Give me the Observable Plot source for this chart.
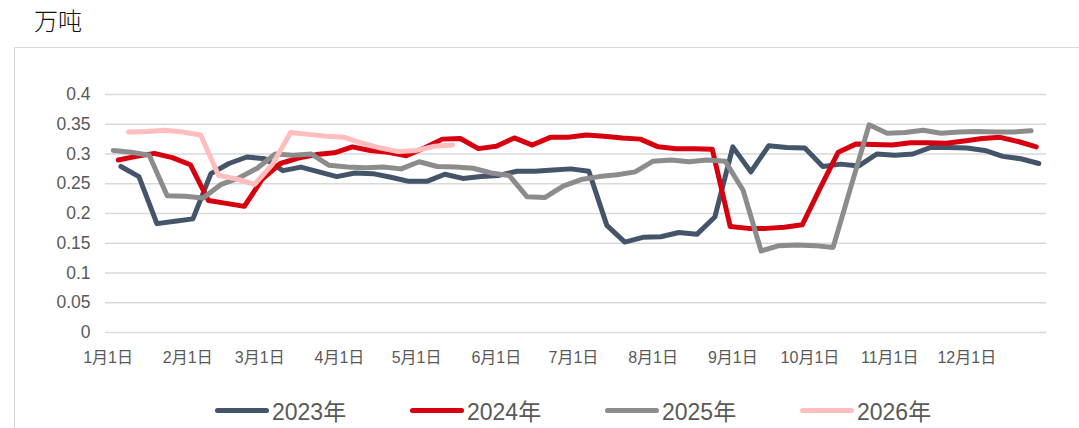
<!DOCTYPE html>
<html>
<head>
<meta charset="utf-8">
<script src="https://cdn.jsdelivr.net/npm/d3@7"></script>
<script src="https://cdn.jsdelivr.net/npm/@observablehq/plot@0.6"></script>
<style>
  body { margin: 0; background: #fff; }
  #wrap { position: relative; width: 1079px; height: 428px; overflow: hidden; font-family: "Liberation Sans", Arial, "Noto Sans CJK SC", sans-serif; }
  #title { position: absolute; left: 34px; top: 6px; font-size: 24px; font-weight: 300; color: #111; font-family: "Noto Sans CJK SC", sans-serif; line-height: 1.2; }
  #box { position: absolute; left: 14px; top: 47px; width: 1090px; height: 420px; border: 1px solid #d9d9d9; box-sizing: border-box; }
  #chart { position: absolute; left: 0; top: 60px; }
  #legend { position: absolute; left: 215px; top: 393px; display: flex; }
  .item { display: flex; align-items: center; width: 195px; }
  .swatch { width: 54px; height: 5px; border-radius: 3px; margin-right: 3px; }
  .label { font-size: 23px; color: #595959; }
</style>
</head>
<body>
<div id="wrap">
  <div id="box"></div>
  <div id="title">万吨</div>
  <div id="chart"></div>
  <div id="legend"></div>
</div>
<script>
// ---- data ----
const seriesNames = ["2023年", "2024年", "2025年", "2026年"];
const seriesColors = ["#44546A", "#D7000F", "#8C8C8C", "#FFBDBD"];
// first weekly observation of each year (date string)
const startDates = ["2023-01-06", "2024-01-05", "2025-01-03", "2026-01-09"];

const v2023 = [0.279,0.262,0.183,0.187,0.191,0.267,0.284,0.295,0.292,0.272,0.278,0.270,0.262,0.268,0.267,0.261,0.254,0.254,0.266,0.259,0.262,0.264,0.271,0.271,0.273,0.275,0.271,0.180,0.152,0.160,0.161,0.168,0.165,0.194,0.312,0.270,0.314,0.311,0.310,0.279,0.283,0.280,0.300,0.298,0.300,0.311,0.311,0.310,0.306,0.296,0.292,0.284];
const v2024 = [0.290,0.296,0.301,0.294,0.282,0.222,0.217,0.212,0.258,0.284,0.293,0.299,0.302,0.312,0.306,0.303,0.297,0.310,0.325,0.326,0.309,0.313,0.327,0.315,0.328,0.328,0.332,0.330,0.327,0.325,0.312,0.309,0.309,0.308,0.178,0.175,0.175,0.177,0.181,0.243,0.303,0.317,0.316,0.315,0.319,0.319,0.318,0.322,0.326,0.328,0.321,0.312];
const v2025 = [0.306,0.303,0.298,0.230,0.229,0.226,0.249,0.260,0.276,0.300,0.298,0.300,0.281,0.278,0.277,0.278,0.275,0.287,0.279,0.278,0.276,0.268,0.264,0.228,0.227,0.246,0.257,0.262,0.265,0.270,0.288,0.290,0.287,0.290,0.288,0.239,0.137,0.146,0.147,0.146,0.143,0.246,0.349,0.335,0.336,0.340,0.335,0.337,0.338,0.337,0.337,0.339];
const v2026 = [0.337,0.338,0.340,0.337,0.332,0.264,0.258,0.249,0.283,0.336,0.333,0.330,0.328,0.318,0.310,0.304,0.306,0.313,0.315];

const yTicks = [0, 0.05, 0.1, 0.15, 0.2, 0.25, 0.3, 0.35, 0.4];
const yTickLabels = ["0", "0.05", "0.1", "0.15", "0.2", "0.25", "0.3", "0.35", "0.4"];
const xTickDays = [0, 31, 59, 90, 120, 151, 181, 212, 243, 273, 304, 334];
const xTickLabels = ["1月1日","2月1日","3月1日","4月1日","5月1日","6月1日","7月1日","8月1日","9月1日","10月1日","11月1日","12月1日"];

// ---- build table (x = day of year of each weekly observation) ----
const allValues = [v2023, v2024, v2025, v2026];
const rows = [];
allValues.forEach((vals, s) => {
  const start = new Date(startDates[s] + "T00:00:00Z");
  const jan1 = Date.UTC(start.getUTCFullYear(), 0, 1);
  vals.forEach((v, i) => {
    const t = start.getTime() + i * 7 * 86400000;
    rows.push({ series: seriesNames[s], day: (t - jan1) / 86400000, value: v });
  });
});

const chart = Plot.plot({
  width: 1079,
  height: 340,
  marginLeft: 105,
  marginRight: 33,
  marginTop: 34,
  marginBottom: 68,
  style: { fontFamily: '"Liberation Sans", Arial, "Noto Sans CJK SC", sans-serif', background: "transparent" },
  x: { type: "linear", domain: [-1, 365] },
  y: { domain: [0, 0.4] },
  color: { domain: seriesNames, range: seriesColors },
  marks: [
    Plot.gridY(yTicks, { stroke: "#d9d9d9", strokeOpacity: 1, strokeWidth: 1.5 }),
    Plot.axisY(yTicks, { tickSize: 0, tickPadding: 15, fontSize: 17.5, fill: "#595959", label: null,
      tickFormat: (d) => yTickLabels[yTicks.indexOf(d)] }),
    Plot.axisX(xTickDays, { tickSize: 0, tickPadding: 19, fontSize: 16, fill: "#595959", label: null,
      tickFormat: (d) => xTickLabels[xTickDays.indexOf(d)] }),
    Plot.line(rows, { x: "day", y: "value", z: "series", stroke: "series", strokeWidth: 5,
      strokeLinejoin: "round", strokeLinecap: "round", curve: "linear" })
  ]
});
document.getElementById("chart").appendChild(chart);

// legend
const legend = document.getElementById("legend");
seriesNames.forEach((name, i) => {
  const item = document.createElement("div");
  item.className = "item";
  const sw = document.createElement("div");
  sw.className = "swatch";
  sw.style.background = seriesColors[i];
  const lb = document.createElement("span");
  lb.className = "label";
  lb.textContent = name;
  item.appendChild(sw);
  item.appendChild(lb);
  legend.appendChild(item);
});
</script>
</body>
</html>
